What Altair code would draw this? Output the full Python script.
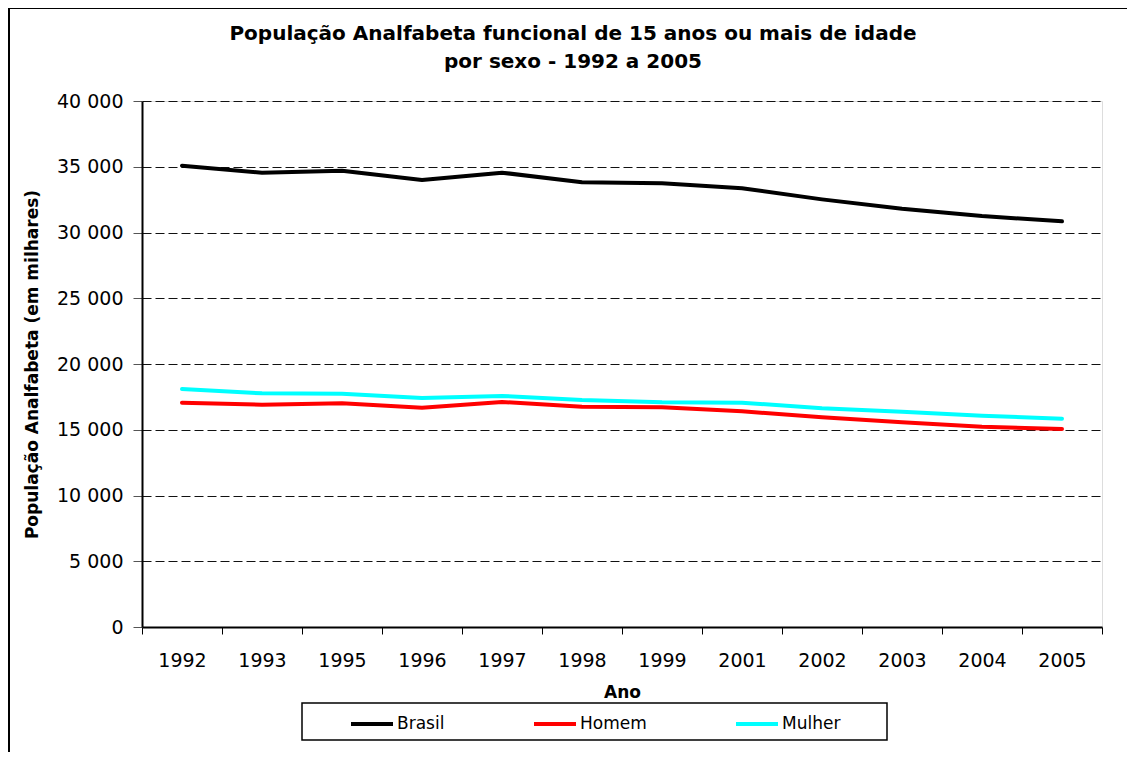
import altair as alt
import pandas as pd

years = ["1992", "1993", "1995", "1996", "1997", "1998", "1999", "2001", "2002", "2003", "2004", "2005"]
brasil = [35080, 34550, 34700, 33990, 34550, 33820, 33740, 33360, 32520, 31810, 31250, 30850]
homem = [17060, 16910, 17010, 16680, 17110, 16750, 16710, 16400, 15950, 15570, 15230, 15060]
mulher = [18100, 17770, 17740, 17410, 17570, 17260, 17090, 17060, 16630, 16370, 16070, 15840]
series = ["Brasil", "Homem", "Mulher"]
colors = ["#000000", "#FF0000", "#00FFFF"]
title_lines = ["População Analfabeta funcional de 15 anos ou mais de idade", "por sexo -  1992 a 2005"]

rows = []
for name, vals in zip(series, [brasil, homem, mulher]):
    for y, v in zip(years, vals):
        rows.append({"Ano": y, "Serie": name, "Valor": v})
df = pd.DataFrame(rows)

FONT = "DejaVu Sans"

lines = alt.Chart(df).mark_line(strokeWidth=4, strokeCap="round", strokeJoin="round").encode(
    x=alt.X("Ano:O", sort=years,
            scale=alt.Scale(type="band", paddingInner=0, paddingOuter=0),
            axis=alt.Axis(title="Ano", labelAngle=0, tickBand="extent", tickSize=7,
                          labelPadding=17, labelFontSize=19, titleFontSize=17,
                          titleFontWeight="bold", titlePadding=14, grid=False,
                          domainColor="#000", domainWidth=2, tickColor="#000",
                          labelColor="#000", titleColor="#000", labelFont=FONT, titleFont=FONT)),
    y=alt.Y("Valor:Q", scale=alt.Scale(domain=[0, 40000], nice=False),
            axis=alt.Axis(title="População Analfabeta  (em milhares)", values=list(range(0, 40001, 5000)),
                          labelExpr="replace(format(datum.value, ','), ',', ' ')",
                          tickSize=9, labelPadding=10, labelFontSize=19, titleFontSize=17,
                          titleFontWeight="bold", titlePadding=15, grid=True,
                          gridDash=[9, 4], gridColor="#111", gridWidth=1,
                          domainColor="#000", domainWidth=2, tickColor="#555",
                          labelColor="#000", titleColor="#000", labelFont=FONT, titleFont=FONT)),
    color=alt.Color("Serie:N", sort=series,
                    scale=alt.Scale(domain=series, range=colors),
                    legend=alt.Legend(title=None, orient="none", legendX=207, legendY=600,
                                      direction="horizontal", symbolType="stroke",
                                      symbolSize=1764, symbolStrokeWidth=4,
                                      labelFontSize=17, labelFont=FONT, labelColor="#000",
                                      columnPadding=81, labelOffset=2, padding=0)),
)

one = pd.DataFrame({"k": [0]})
legend_box = alt.Chart(one).mark_rect(fill=None, stroke="#000", strokeWidth=1.5).encode(
    x=alt.value(160), x2=alt.value(745), y=alt.value(602), y2=alt.value(639)
)
outer_box = alt.Chart(one).mark_rect(fill=None, stroke="#000", strokeWidth=2).encode(
    x=alt.value(-133), x2=alt.value(1000), y=alt.value(-93), y2=alt.value(700)
)
title1 = alt.Chart(one).mark_text(text=title_lines[0], font=FONT, fontSize=20, fontWeight="bold",
                                  color="#000", align="center", baseline="middle").encode(
    x=alt.value(431), y=alt.value(-67))
title2 = alt.Chart(one).mark_text(text=title_lines[1], font=FONT, fontSize=20, fontWeight="bold",
                                  color="#000", align="center", baseline="middle").encode(
    x=alt.value(431), y=alt.value(-39))

chart = alt.layer(outer_box, legend_box, title1, title2, lines).properties(
    width=960, height=526,
    padding={"left": 134, "top": 93, "right": 25, "bottom": 125},
    autosize=alt.AutoSizeParams(type="none"),
).configure_view(stroke="#444", strokeWidth=1).configure(background="white")

chart.save("out.html", embed_options={"renderer": "svg", "actions": False})
